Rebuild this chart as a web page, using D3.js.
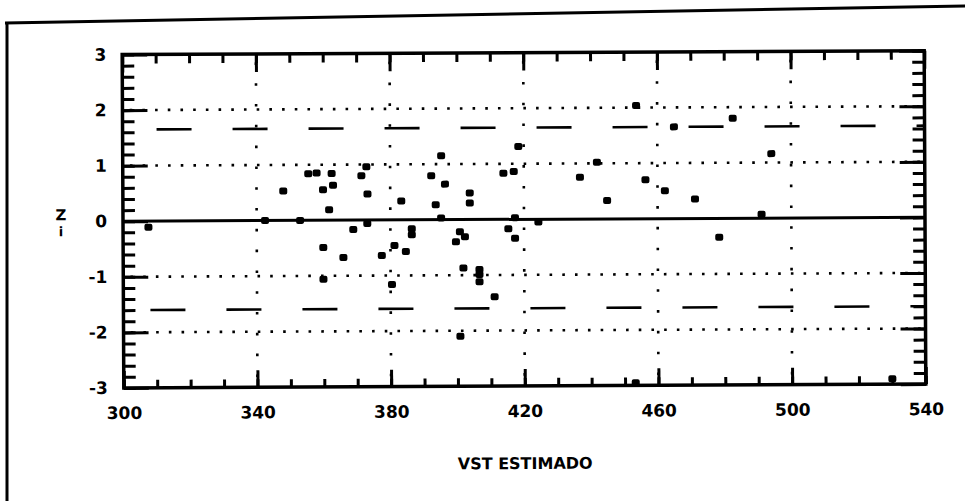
<!DOCTYPE html>
<html>
<head>
<meta charset="utf-8">
<script src="https://cdn.jsdelivr.net/npm/d3@7"></script>
<style>
  html, body { margin: 0; padding: 0; background: #fff; }
  svg { display: block; }
  .lbl { font-family: "DejaVu Sans", sans-serif; font-weight: bold; fill: #000; }
</style>
</head>
<body>
<svg id="chart" width="965" height="501"></svg>
<script>
// Estimated VST (x) and standardized residual Z_i (y) for each observation
const vst = [307.6, 342.5, 353.0, 348.0, 355.5, 358.0, 362.5, 359.9, 362.9, 361.7,
             371.4, 372.9, 373.2, 373.1, 368.9, 359.9, 365.9, 359.9, 377.4, 381.2,
             384.6, 380.4, 383.3, 386.4, 386.4, 392.3, 393.6, 395.3, 396.4, 395.2,
             403.8, 403.8, 400.8, 402.3, 399.6, 401.8, 406.6, 406.6, 406.6, 411.1,
             400.8, 413.9, 417.0, 418.4, 417.3, 415.3, 417.3, 424.3, 436.8, 441.9,
             444.9, 453.7, 456.4, 462.2, 465.0, 471.2, 478.4, 482.6, 491.1, 494.1,
             530.0, 453.2];
const zi = [-0.11, 0.00, 0.00, 0.53, 0.84, 0.85, 0.84, 0.55, 0.63, 0.19,
            0.80, 0.96, 0.47, -0.06, -0.17, -0.49, -0.67, -1.06, -0.64, -0.46,
            -0.57, -1.16, 0.34, -0.16, -0.27, 0.79, 0.27, 1.15, 0.64, 0.03,
            0.48, 0.30, -0.22, -0.31, -0.40, -0.87, -0.90, -0.99, -1.12, -1.39,
            -2.10, 0.83, 0.86, 1.31, 0.03, -0.17, -0.34, -0.05, 0.75, 1.02,
            0.33, 2.04, 0.70, 0.50, 1.65, 0.35, -0.34, 1.80, 0.07, 1.16,
            -2.90, -2.95];

const xTicks = [300, 340, 380, 420, 460, 500, 540];
const yTicks = [-3, -2, -1, 0, 1, 2, 3];
const xGrid = [340, 380, 420, 460, 500];
const yGrid = [-2, -1, 1, 2];
const refLevels = [1.65, -1.6];
const xTitle = "VST ESTIMADO";
const yTitle = "Z";
const yTitleSub = "i";

const svg = d3.select("#chart");

// page frame
svg.append("path").attr("d", "M5,23 L965,6").attr("stroke", "#000").attr("stroke-width", 3).attr("fill", "none");
svg.append("path").attr("d", "M7,22 L7,501").attr("stroke", "#000").attr("stroke-width", 3).attr("fill", "none");

const x = d3.scaleLinear().domain([300, 540]).range([123, 925]);
const y = d3.scaleLinear().domain([-3, 3]).range([386, 52.6]);
const cx = (x.range()[0] + x.range()[1]) / 2;
const cy = y(0);

const plot = svg.append("g").attr("transform", `rotate(-0.28, ${cx}, ${cy})`);

// dotted grid
plot.append("g").selectAll("line").data(yGrid).join("line")
  .attr("x1", x(300)).attr("x2", x(540))
  .attr("y1", d => y(d)).attr("y2", d => y(d))
  .attr("stroke", "#000").attr("stroke-width", 2.6)
  .attr("stroke-dasharray", "2.6 10.1").attr("stroke-dashoffset", 5.5);

plot.append("g").selectAll("line").data(xGrid).join("line")
  .attr("x1", d => x(d)).attr("x2", d => x(d))
  .attr("y1", y(3)).attr("y2", y(-3))
  .attr("stroke", "#000").attr("stroke-width", 2.6)
  .attr("stroke-dasharray", "2.6 18.2").attr("stroke-dashoffset", 12.3);

// dashed reference levels
plot.append("g").selectAll("line").data(refLevels).join("line")
  .attr("x1", x(300)).attr("x2", x(540))
  .attr("y1", d => y(d)).attr("y2", d => y(d))
  .attr("stroke", "#000").attr("stroke-width", 2.6)
  .attr("stroke-dasharray", "35 41")
  .attr("stroke-dashoffset", (d, i) => i === 0 ? 42 : 49);

// zero line
plot.append("line")
  .attr("x1", x(300)).attr("x2", x(540))
  .attr("y1", y(0)).attr("y2", y(0))
  .attr("stroke", "#000").attr("stroke-width", 3);

// axes with inward ticks
const minorY = d3.range(-30, 31, 2).map(k => k / 10);
const minorX = d3.range(300, 541, 10);

function styleAxis(g) {
  g.select(".domain").remove();
  g.selectAll(".tick line").attr("stroke", "#000").attr("stroke-width", 3);
}
function styleLabels(g) {
  g.selectAll("text").attr("class", "lbl").attr("font-family", null).attr("font-size", null)
    .style("font-size", "17px");
}

plot.append("g").attr("transform", `translate(${x(300)},0)`)
  .call(d3.axisLeft(y).tickValues(minorY).tickSize(-12).tickFormat(""))
  .call(styleAxis);
plot.append("g").attr("transform", `translate(${x(300)},0)`)
  .call(d3.axisLeft(y).tickValues(yTicks).tickSize(-25).tickPadding(16).tickFormat(d => String(d)))
  .call(styleAxis).call(styleLabels);

plot.append("g").attr("transform", `translate(${x(540)},0)`)
  .call(d3.axisRight(y).tickValues(minorY).tickSize(-12).tickFormat(""))
  .call(styleAxis);
plot.append("g").attr("transform", `translate(${x(540)},0)`)
  .call(d3.axisRight(y).tickValues(yTicks).tickSize(-25).tickFormat(""))
  .call(styleAxis);

plot.append("g").attr("transform", `translate(0,${y(3)})`)
  .call(d3.axisTop(x).tickValues(minorX).tickSize(-9).tickFormat(""))
  .call(styleAxis);
plot.append("g").attr("transform", `translate(0,${y(3)})`)
  .call(d3.axisTop(x).tickValues(xTicks).tickSize(-18).tickFormat(""))
  .call(styleAxis);

plot.append("g").attr("transform", `translate(0,${y(-3)})`)
  .call(d3.axisBottom(x).tickValues(minorX).tickSize(-8).tickFormat(""))
  .call(styleAxis);
plot.append("g").attr("transform", `translate(0,${y(-3)})`)
  .call(d3.axisBottom(x).tickValues(xTicks).tickSize(-17).tickPadding(19).tickFormat(d => String(d)))
  .call(styleAxis).call(styleLabels);

// plot frame
plot.append("rect")
  .attr("x", x(300)).attr("y", y(3))
  .attr("width", x(540) - x(300)).attr("height", y(-3) - y(3))
  .attr("fill", "none").attr("stroke", "#000").attr("stroke-width", 3.5);

// observations
const pts = vst.map((v, i) => ({ v, z: zi[i] }));
plot.append("g").selectAll("rect").data(pts).join("rect")
  .attr("x", d => x(d.v) - 4).attr("y", d => y(d.z) - 3.5)
  .attr("width", 8).attr("height", 7).attr("rx", 2)
  .attr("fill", "#000");

// axis titles
plot.append("text").attr("class", "lbl")
  .attr("x", cx).attr("y", 469)
  .attr("text-anchor", "middle").style("font-size", "16px")
  .text(xTitle);

// Z with subscript i stacked underneath
plot.append("text").attr("class", "lbl")
  .attr("x", 61).attr("y", 218)
  .attr("text-anchor", "middle").style("font-size", "15px")
  .text(yTitle);
plot.append("text").attr("class", "lbl")
  .attr("x", 61).attr("y", 234)
  .attr("text-anchor", "middle").style("font-size", "13px")
  .text(yTitleSub);
</script>
</body>
</html>
